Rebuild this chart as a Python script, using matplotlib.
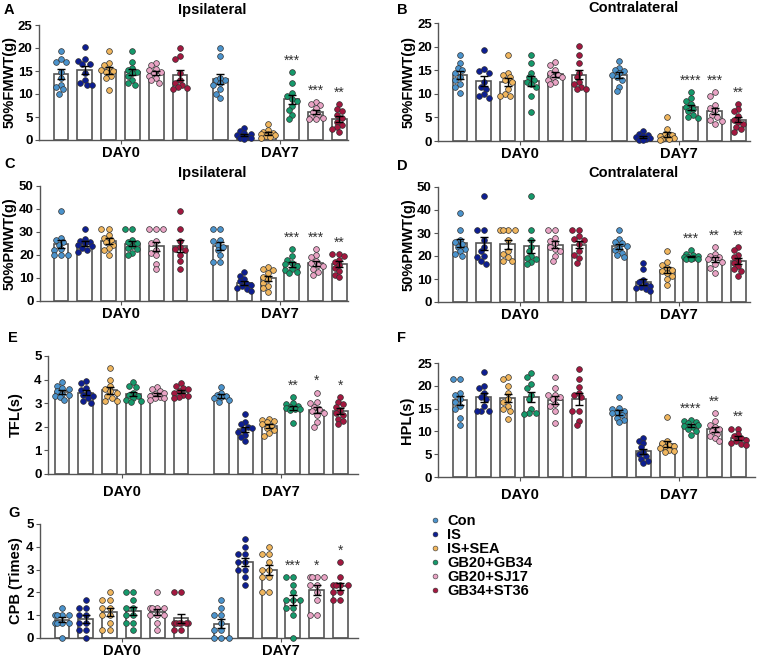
import numpy as np
import matplotlib.pyplot as plt
from matplotlib.lines import Line2D

plt.rcParams['font.family'] = ['Liberation Sans', 'DejaVu Sans']
plt.rcParams['font.weight'] = 'bold'
plt.rcParams['axes.labelweight'] = 'bold'

groups = ['Con', 'IS', 'IS+SEA', 'GB20+GB34', 'GB20+SJ17', 'GB34+ST36']
colors = ['#4b93cc', '#0d1e92', '#f0b65e', '#15996b', '#e8a3c4', '#a3173f']
days = ['DAY0', 'DAY7']

# each panel: 12 groups (6 on DAY0, then 6 on DAY7), individual animals
fmwt_ipsi = [
    [19.3, 17.0, 17.0, 14.8, 13.5, 12.0, 11.5, 11.0, 10.1, 17.5],
    [20.2, 17.5, 17.2, 16.5, 16.5, 14.5, 13.0, 12.0, 12.0, 12.5],
    [19.3, 16.8, 16.2, 15.5, 15.2, 15.0, 14.8, 14.0, 13.5, 10.9],
    [19.3, 17.0, 15.6, 15.2, 14.8, 14.5, 14.0, 13.0, 12.5, 12.0],
    [16.8, 16.3, 15.5, 15.2, 14.8, 14.5, 14.0, 13.5, 13.0, 12.5],
    [20.1, 18.3, 17.7, 14.5, 13.0, 12.5, 12.0, 11.5, 11.2, 11.0],
    [20.1, 18.2, 13.0, 13.0, 13.5, 12.5, 12.0, 11.0, 10.1, 9.2],
    [2.6, 2.0, 1.5, 1.2, 1.0, 0.8, 0.6, 0.5, 0.4, 0.3],
    [3.4, 2.2, 1.8, 1.5, 1.3, 1.2, 1.0, 0.8, 0.6, 0.4],
    [14.8, 12.5, 10.2, 9.5, 9.0, 8.5, 7.5, 6.5, 5.5, 4.5],
    [8.2, 7.8, 7.6, 7.0, 6.0, 5.5, 5.0, 4.8, 4.6, 4.5],
    [7.8, 6.8, 6.3, 5.5, 4.8, 4.0, 3.2, 2.8, 2.3, 1.8],
]
fmwt_contra = [
    [18.2, 16.5, 15.5, 15.0, 14.5, 13.5, 13.0, 12.0, 11.5, 10.2],
    [19.3, 15.2, 14.8, 14.5, 12.5, 11.5, 11.0, 10.0, 9.5, 9.2],
    [18.2, 14.5, 14.0, 13.5, 13.0, 12.5, 11.0, 10.0, 9.5, 9.5],
    [18.2, 16.5, 14.5, 13.5, 13.0, 12.5, 12.0, 11.5, 9.5, 6.2],
    [16.8, 16.2, 15.0, 14.5, 14.0, 13.5, 13.5, 13.0, 12.5, 12.0],
    [20.1, 18.2, 16.5, 14.5, 13.5, 12.5, 12.0, 11.5, 11.0, 11.0],
    [16.9, 15.5, 15.0, 14.8, 14.5, 14.0, 13.5, 13.0, 11.5, 10.5],
    [2.1, 1.5, 1.2, 1.0, 0.8, 0.7, 0.5, 0.4, 0.3, 0.2],
    [5.1, 2.5, 1.5, 1.2, 1.0, 0.8, 0.6, 0.5, 0.4, 0.3],
    [10.3, 9.2, 8.5, 7.8, 7.3, 6.8, 6.3, 5.5, 5.0, 4.8],
    [10.3, 9.5, 7.6, 7.0, 6.5, 5.5, 5.0, 4.5, 4.2, 3.6],
    [7.8, 6.7, 6.3, 5.2, 4.5, 4.0, 3.5, 3.0, 2.5, 2.0],
]
pmwt_ipsi = [
    [39.0, 27.5, 26.5, 25.5, 24.5, 22.5, 22.0, 20.0, 20.0, 19.8],
    [31.3, 27.0, 26.0, 25.5, 25.0, 24.5, 24.0, 23.0, 22.0, 21.5],
    [31.3, 31.3, 28.5, 27.5, 26.5, 25.5, 24.5, 23.0, 22.0, 19.8],
    [31.3, 31.3, 26.5, 25.5, 25.0, 24.0, 23.0, 22.5, 21.0, 19.8],
    [31.3, 31.3, 31.3, 26.0, 25.0, 22.0, 21.0, 19.8, 16.0, 13.8],
    [39.0, 31.3, 26.0, 23.5, 22.5, 22.0, 20.0, 17.5, 13.8],
    [31.3, 31.3, 26.5, 26.0, 24.5, 23.5, 22.0, 19.8, 16.8, 16.8],
    [12.5, 11.0, 9.5, 8.5, 7.5, 7.0, 6.5, 5.5, 5.0, 4.5],
    [14.8, 14.0, 13.5, 12.0, 10.5, 9.5, 8.0, 6.5, 5.5, 4.0],
    [22.5, 19.5, 18.0, 16.5, 16.0, 15.0, 14.0, 13.5, 12.5, 12.0],
    [22.5, 20.0, 19.0, 17.5, 16.5, 15.5, 15.0, 14.0, 12.5, 11.5],
    [20.5, 20.5, 19.5, 18.0, 17.0, 15.5, 14.5, 13.0, 11.5, 10.5],
]
pmwt_contra = [
    [38.5, 31.3, 27.0, 26.0, 25.0, 24.0, 23.0, 22.0, 21.0, 20.0],
    [46.3, 31.3, 31.3, 27.0, 24.0, 22.0, 20.0, 19.5, 18.0, 16.5],
    [31.3, 31.3, 31.3, 31.3, 27.0, 22.0, 21.0, 19.5, 18.0, 18.0],
    [46.3, 31.3, 27.0, 24.0, 22.0, 20.0, 19.0, 18.5, 17.5, 16.5],
    [31.3, 31.3, 28.0, 26.5, 25.5, 24.0, 23.0, 22.0, 20.0, 18.0],
    [31.3, 31.3, 28.5, 27.5, 27.0, 25.0, 22.0, 20.5, 19.0, 17.0],
    [31.3, 27.5, 26.0, 25.5, 24.5, 23.5, 22.5, 21.5, 20.5, 19.5],
    [16.8, 14.5, 9.5, 8.5, 7.5, 7.0, 6.5, 6.0, 5.5, 5.0],
    [22.0, 17.5, 16.0, 15.0, 14.0, 13.5, 12.5, 11.5, 10.0, 7.5],
    [22.5, 21.0, 20.5, 20.0, 19.5, 19.5, 19.0, 18.8, 18.5, 18.5],
    [24.0, 21.0, 20.0, 19.5, 19.0, 18.5, 17.5, 16.5, 15.0, 12.5],
    [24.0, 22.5, 20.5, 19.5, 18.0, 17.0, 15.5, 14.5, 13.5, 11.5],
]
tfl = [
    [3.9, 3.75, 3.65, 3.6, 3.5, 3.4, 3.35, 3.3, 3.25, 3.15],
    [3.95, 3.85, 3.65, 3.55, 3.45, 3.35, 3.3, 3.2, 3.1, 3.0],
    [4.5, 4.0, 3.75, 3.6, 3.45, 3.3, 3.2, 3.1, 3.1, 3.5],
    [3.9, 3.75, 3.7, 3.45, 3.35, 3.3, 3.2, 3.15, 3.1, 3.05],
    [3.7, 3.6, 3.5, 3.45, 3.4, 3.3, 3.25, 3.2, 3.2, 3.15],
    [3.85, 3.75, 3.65, 3.6, 3.5, 3.45, 3.35, 3.3, 3.25, 3.2],
    [3.7, 3.45, 3.35, 3.3, 3.25, 3.2, 3.15, 3.05],
    [2.55, 2.2, 2.1, 2.0, 1.95, 1.85, 1.8, 1.65, 1.55, 1.4],
    [2.35, 2.3, 2.25, 2.2, 2.1, 2.05, 1.95, 1.85, 1.75, 1.6],
    [3.25, 3.0, 2.95, 2.9, 2.85, 2.8, 2.75, 2.75, 2.7, 2.15],
    [3.45, 3.05, 3.0, 2.85, 2.75, 2.65, 2.6, 2.5, 2.2, 2.0],
    [3.25, 3.05, 2.95, 2.85, 2.7, 2.6, 2.5, 2.35, 2.25, 2.1],
]
hpl = [
    [21.5, 21.5, 18.5, 18.0, 17.0, 16.5, 15.5, 15.0, 13.0, 11.5],
    [23.0, 20.0, 19.5, 18.5, 17.5, 17.0, 15.5, 14.5, 14.5, 14.5],
    [22.0, 21.5, 20.0, 18.5, 17.0, 16.5, 15.5, 15.0, 14.5, 12.8],
    [22.7, 22.0, 20.3, 19.5, 18.0, 17.0, 15.0, 14.0, 14.0, 13.8],
    [22.0, 19.5, 18.0, 18.0, 17.5, 17.0, 16.0, 15.5, 14.5, 11.8],
    [23.7, 21.5, 19.7, 18.0, 17.5, 18.5, 14.5, 14.5, 12.3, 11.3],
    [17.5, 15.2, 15.0, 14.5, 14.2, 14.0, 13.5, 13.0, 12.5, 12.0],
    [8.6, 8.0, 7.5, 6.5, 5.5, 5.0, 4.5, 4.0, 3.5, 3.0],
    [13.2, 8.0, 7.5, 7.0, 6.8, 6.5, 6.3, 6.0, 5.8, 5.5],
    [12.5, 12.2, 12.0, 11.8, 11.5, 11.2, 11.0, 10.5, 10.0, 9.3],
    [14.0, 12.3, 11.5, 11.0, 10.5, 10.0, 9.5, 9.0, 8.5, 8.0],
    [10.6, 10.6, 9.5, 9.0, 8.5, 8.2, 8.0, 7.5, 7.2, 7.0],
]
cpb = [
    [1.33, 1.0, 1.0, 1.0, 1.0, 0.67, 0.67, 0.67, 0.67, 0.0],
    [1.67, 1.33, 1.33, 1.0, 1.0, 0.67, 0.67, 0.33, 0.33, 0.0],
    [2.0, 1.67, 1.67, 1.33, 1.33, 1.0, 1.0, 0.67, 0.33, 0.33],
    [2.0, 2.0, 1.67, 1.33, 1.33, 1.0, 1.0, 0.67, 0.67, 0.33],
    [2.0, 1.33, 1.33, 1.33, 1.33, 1.0, 1.0, 1.0, 0.67, 0.33],
    [2.0, 2.0, 0.67, 0.67, 0.67, 0.67, 0.67, 0.67, 0.33, 0.33],
    [1.67, 1.33, 1.0, 1.0, 0.67, 0.33, 0.33, 0.0, 0.0, 0.0],
    [4.33, 4.0, 3.67, 3.67, 3.33, 3.33, 3.0, 3.0, 2.67, 2.33],
    [4.0, 3.67, 3.67, 3.33, 3.0, 3.0, 2.67, 2.67, 2.0, 2.0],
    [2.67, 2.67, 2.33, 2.0, 1.67, 1.67, 1.67, 1.33, 1.33, 1.0, 0.0],
    [2.67, 2.67, 2.67, 2.67, 2.33, 2.33, 2.0, 1.67, 1.0, 1.0],
    [3.33, 2.67, 2.33, 2.33, 2.33, 2.33, 2.0, 2.0, 1.67, 1.67],
]

stars_a = [''] * 9 + ['***', '***', '**']
stars_b = [''] * 9 + ['****', '***', '**']
stars_c = [''] * 9 + ['***', '***', '**']
stars_d = [''] * 9 + ['***', '**', '**']
stars_e = [''] * 9 + ['**', '*', '*']
stars_f = [''] * 9 + ['****', '**', '**']
stars_g = [''] * 9 + ['***', '*', '*']

W, H = 760, 658
UNIT = 23.8   # px per bar slot
xpos = np.r_[np.arange(6), np.arange(6) + 6.7]

fig = plt.figure(figsize=(W / 100, H / 100), dpi=100)


def swarm(v, ypx, xpx, d=5.0, step=0.1):
    # simple beeswarm, kept inside the bar
    cands = [0.0]
    for k in range(1, 4):
        cands += [-k * step, k * step]
    placed = []
    offs = np.zeros(len(v))
    for i in np.argsort(-v):
        best, best_gap = 0.0, -1
        for c in cands:
            gap = min([np.hypot((c - ox) * xpx, (v[i] - oy) * ypx) for ox, oy in placed] + [99])
            if gap >= d:
                best = c
                break
            if gap > best_gap:
                best, best_gap = c, gap
        offs[i] = best
        placed.append((best, v[i]))
    return offs


def panel(box, vals, stars, ymax, ystep, ylabel, lab_x, letter, let_xy,
          title=None, title_xy=None, xpad=1.5):
    left, right, top, bottom, bar0 = box
    ax = fig.add_axes([left / W, 1 - bottom / H, (right - left) / W, (bottom - top) / H])
    ax.set_xlim(-(bar0 - left) / UNIT, (right - bar0) / UNIT)
    ax.set_ylim(0, ymax)
    ypx = (bottom - top) / ymax
    for i, v in enumerate(vals):
        v = np.array(v)
        m = v.mean()
        se = v.std(ddof=1) / np.sqrt(len(v))
        ax.bar(xpos[i], m, width=0.63, color='white', edgecolor='#555555',
               linewidth=1.2, zorder=1)
        offs = swarm(v, ypx, UNIT)
        ax.scatter(xpos[i] + offs, v, s=17, color=colors[i % 6], edgecolors='#333333',
                   linewidths=0.5, zorder=3, clip_on=False)
        ax.errorbar(xpos[i], m, yerr=se, color='black', capsize=3, elinewidth=1,
                    capthick=1, zorder=4)
        if stars[i]:
            ax.text(xpos[i], v.max() + 0.1 * ymax, stars[i], ha='center', va='center',
                    fontsize=10, fontweight='normal', color='#333333')
    for s in ['top', 'right']:
        ax.spines[s].set_visible(False)
    for s in ['left', 'bottom']:
        ax.spines[s].set_color('#555555')
        ax.spines[s].set_linewidth(1.0)
    ax.set_yticks(np.arange(0, ymax + ystep / 2, ystep))
    ax.set_xticks([xpos[:6].mean(), xpos[6:].mean()])
    ax.set_xticklabels(days, fontsize=10.5, fontweight='bold')
    ax.tick_params(axis='y', labelsize=9.5, length=3, color='#555555', pad=1.5)
    ax.tick_params(axis='x', length=3, color='#555555', pad=xpad)
    ax.set_ylabel(ylabel, fontsize=10.5, fontweight='bold')
    # label anchor is the right edge of the rotated text
    ax.yaxis.set_label_coords((lab_x - left) / (right - left), 0.5)
    fig.text(let_xy[0] / W, 1 - let_xy[1] / H, letter, fontsize=10.5,
             fontweight='bold', ha='left', va='center')
    if title:
        fig.text(title_xy[0] / W, 1 - title_xy[1] / H, title, fontsize=10.5,
                 fontweight='bold', ha='center', va='center')
    return ax


panel((39, 348, 25, 140, 61), fmwt_ipsi, stars_a, 25, 5, '50%FMWT(g)', 17,
      'A', (4, 10), 'Ipsilateral', (212, 10))
panel((438, 750, 23, 141, 460), fmwt_contra, stars_b, 25, 5, '50%FMWT(g)', 416,
      'B', (397, 10), 'Contralateral', (633, 8))
panel((40, 348, 186, 301, 61), pmwt_ipsi, stars_c, 50, 10, '50%PMWT(g)', 17,
      'C', (4, 164), 'Ipsilateral', (212, 173))
panel((438, 750, 187, 302, 460), pmwt_contra, stars_d, 50, 10, '50%PMWT(g)', 416,
      'D', (397, 166), 'Contralateral', (633, 173))
panel((48, 358, 356, 474, 62), tfl, stars_e, 5, 1, 'TFL(s)', 23,
      'E', (8, 338), xpad=5)
panel((438, 755, 363, 477, 460), hpl, stars_f, 25, 5, 'HPL(s)', 414,
      'F', (397, 338), xpad=5)
panel((40, 358, 524, 638, 62), cpb, stars_g, 5, 1, 'CPB (Times)', 23,
      'G', (8, 513))

handles = [Line2D([], [], marker='o', linestyle='none', markersize=3.5,
                  markerfacecolor=c, markeredgecolor='#333333', markeredgewidth=0.4)
           for c in colors]
fig.legend(handles, groups, loc='upper left', bbox_to_anchor=(428 / W, 1 - 514 / H),
           frameon=False, fontsize=10.5, handletextpad=0.3, labelspacing=0.0,
           handlelength=1.0, borderpad=0, borderaxespad=0)

fig.savefig('out.png', dpi=100)
